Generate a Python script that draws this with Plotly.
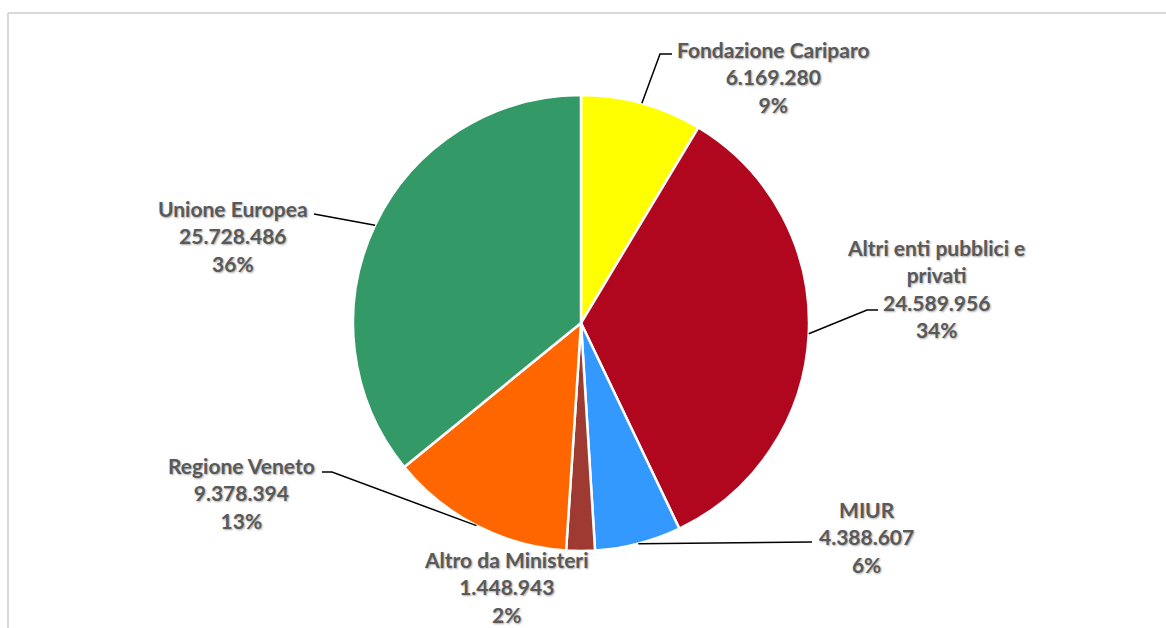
import math
import plotly.graph_objects as go

# ---- data ----
categories = ["Fondazione Cariparo", "Altri enti pubblici e privati", "MIUR",
              "Altro da Ministeri", "Regione Veneto", "Unione Europea"]
values = [6169280, 24589956, 4388607, 1448943, 9378394, 25728486]
colors = ["#FFFF00", "#B0071E", "#3399FF", "#9E3A32", "#FF6600", "#339966"]
label_text = ["Fondazione Cariparo", "Altri enti pubblici e<br>privati", "MIUR",
              "Altro da Ministeri", "Regione Veneto", "Unione Europea"]

# ---- layout (pixels) ----
W, H = 1166, 628
cx, cy, R = 581, 323, 228
label_pos = [(773, 77), (936, 289), (866, 537), (506, 587), (241, 493), (233, 236)]
elbows = [[(660, 54), (672, 54)], [(867, 310), (878, 310)], [(812, 542)], [],
          [(332, 472), (322, 472)], [(314, 214)]]

def px(x, y):
    return x / W, 1 - y / H

total = sum(values)
fig = go.Figure(go.Pie(
    labels=categories, values=values, sort=False, direction="clockwise",
    rotation=0, textinfo="none", hoverinfo="label+value+percent",
    marker=dict(colors=colors, line=dict(color="white", width=2.5)),
    domain=dict(x=[(cx - R) / W, (cx + R) / W], y=[1 - (cy + R) / H, 1 - (cy - R) / H]),
    showlegend=False,
))

font = dict(family="Lato, 'Open Sans', sans-serif", size=21, color="#595959",
            weight="bold", shadow="1px 1px 2px rgba(0,0,0,0.35)")
shapes = []
annotations = []
cum = 0
for i, v in enumerate(values):
    mid = (cum + v / 2) / total * 2 * math.pi
    cum += v
    ex, ey = cx + R * math.sin(mid), cy - R * math.cos(mid)
    pct = round(v / total * 100)
    txt = f"{label_text[i]}<br>{v:,}".replace(",", ".") + f"<br>{pct}%"
    lx, ly = px(*label_pos[i])
    annotations.append(dict(x=lx, y=ly, xref="paper", yref="paper", text=txt,
                            showarrow=False, align="center", xanchor="center",
                            yanchor="middle", font=font))
    if elbows[i]:
        pts = [(ex, ey)] + elbows[i]
        path = "M " + " L ".join(f"{px(a, b)[0]},{px(a, b)[1]}" for a, b in pts)
        shapes.append(dict(type="path", xref="paper", yref="paper", path=path,
                           line=dict(color="black", width=1.5)))

# outer frame (light gray)
shapes.append(dict(type="line", xref="paper", yref="paper", x0=8 / W, x1=1.0,
                   y0=1 - 13 / H, y1=1 - 13 / H, line=dict(color="#D9D9D9", width=2)))
shapes.append(dict(type="line", xref="paper", yref="paper", x0=8 / W, x1=8 / W,
                   y0=0, y1=1 - 13 / H, line=dict(color="#D9D9D9", width=2)))

fig.update_layout(width=W, height=H, margin=dict(l=0, r=0, t=0, b=0),
                  paper_bgcolor="white", plot_bgcolor="white",
                  shapes=shapes, annotations=annotations)
fig.write_html("out.html", config={"displayModeBar": False},
               post_script="document.body.style.margin='0';document.body.style.overflow='hidden';")
